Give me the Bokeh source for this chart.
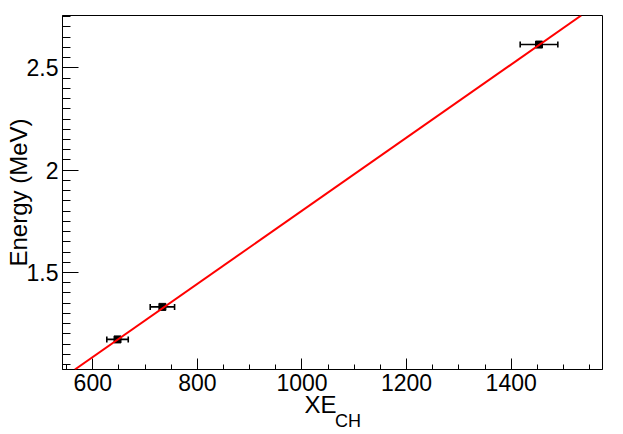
from bokeh.plotting import figure
from bokeh.models import (ColumnDataSource, Whisker, TeeHead, Slope, FixedTicker,
                          LinearAxis, Range1d)
from bokeh.embed import file_html
from bokeh.resources import INLINE

# ---- data ----
xe_ch = [647.3, 733.1, 1453.2]          # XE_CH channel
xe_ch_err = [20.5, 23.3, 36.0]          # horizontal error
energy = [1.173, 1.332, 2.614]          # MeV

fit_slope = 0.001787                    # MeV per channel
fit_intercept = 0.015                   # MeV

x_range = (542.1, 1574.6)
y_range = (1.026, 2.756)
x_major = [600, 800, 1000, 1200, 1400]
y_major = [1.5, 2.0, 2.5]
x_minor = [550 + 50 * i for i in range(21)]
y_minor = [round(1.05 + 0.05 * i, 2) for i in range(35)]

x_title_main = "XE"
x_title_sub = "CH"
y_title = "Energy (MeV)"

FONT = "Liberation Sans"

lower = [x - e for x, e in zip(xe_ch, xe_ch_err)]
upper = [x + e for x, e in zip(xe_ch, xe_ch_err)]
src = ColumnDataSource(dict(x=xe_ch, y=energy, lower=lower, upper=upper))

p = figure(width=623, height=434, output_backend="svg", toolbar_location=None,
           x_range=Range1d(*x_range), y_range=Range1d(*y_range),
           min_border_left=62, min_border_right=21, min_border_top=15,
           min_border_bottom=65)
p.grid.visible = False
p.background_fill_color = "white"
p.border_fill_color = "white"
p.outline_line_color = "black"
p.outline_line_width = 1

for ax in (p.xaxis[0], p.yaxis[0]):
    ax.axis_line_color = "black"
    ax.major_tick_line_color = "black"
    ax.minor_tick_line_color = "black"
    ax.major_tick_out = 0
    ax.minor_tick_out = 0
    ax.major_label_text_font = FONT
    ax.major_label_text_font_size = "23px"
    ax.major_label_text_color = "black"

p.xaxis[0].ticker = FixedTicker(ticks=x_major, minor_ticks=x_minor)
p.yaxis[0].ticker = FixedTicker(ticks=y_major, minor_ticks=y_minor)
p.xaxis[0].major_tick_in = 11
p.xaxis[0].minor_tick_in = 5
p.yaxis[0].major_tick_in = 16
p.yaxis[0].minor_tick_in = 8
p.xaxis[0].major_label_standoff = 4
p.yaxis[0].major_label_standoff = 4

# y title as the axis label
p.yaxis[0].axis_label = y_title
p.yaxis[0].axis_label_text_font = FONT
p.yaxis[0].axis_label_text_font_size = "24px"
p.yaxis[0].axis_label_text_font_style = "normal"
p.yaxis[0].axis_label_text_color = "black"
p.yaxis[0].axis_label_text_baseline = "bottom"
p.yaxis[0].axis_label_standoff = -8


def title_axis(pos, text, size, standoff):
    ax = LinearAxis(ticker=FixedTicker(ticks=[pos], minor_ticks=[]),
                    major_label_overrides={pos: text},
                    axis_line_color=None, major_tick_line_color=None,
                    minor_tick_line_color=None, major_tick_in=0, major_tick_out=0,
                    minor_tick_in=0, minor_tick_out=0,
                    major_label_text_font=FONT, major_label_text_font_size=size,
                    major_label_text_color="black",
                    major_label_standoff=standoff)
    p.add_layout(ax, "below")
    return ax


# x title "XE" with subscript "CH", centred as a whole under the frame
x_mid = (x_range[0] + x_range[1]) / 2
title_axis(x_mid - 23.0, x_title_main, "24px", -3)
title_axis(x_mid + 29.5, x_title_sub, "18px", -10)

p.add_layout(Whisker(source=src, base="y", lower="lower", upper="upper",
                     dimension="width", line_color="black", line_width=1.6,
                     lower_head=TeeHead(size=6, line_color="black", line_width=1.6),
                     upper_head=TeeHead(size=6, line_color="black", line_width=1.6)))
p.scatter("x", "y", source=src, marker="square", size=7, fill_color="black",
          line_color="black")

p.add_layout(Slope(gradient=fit_slope, y_intercept=fit_intercept,
                   line_color="red", line_width=2))

open("out.html", "w").write(file_html(p, INLINE))
